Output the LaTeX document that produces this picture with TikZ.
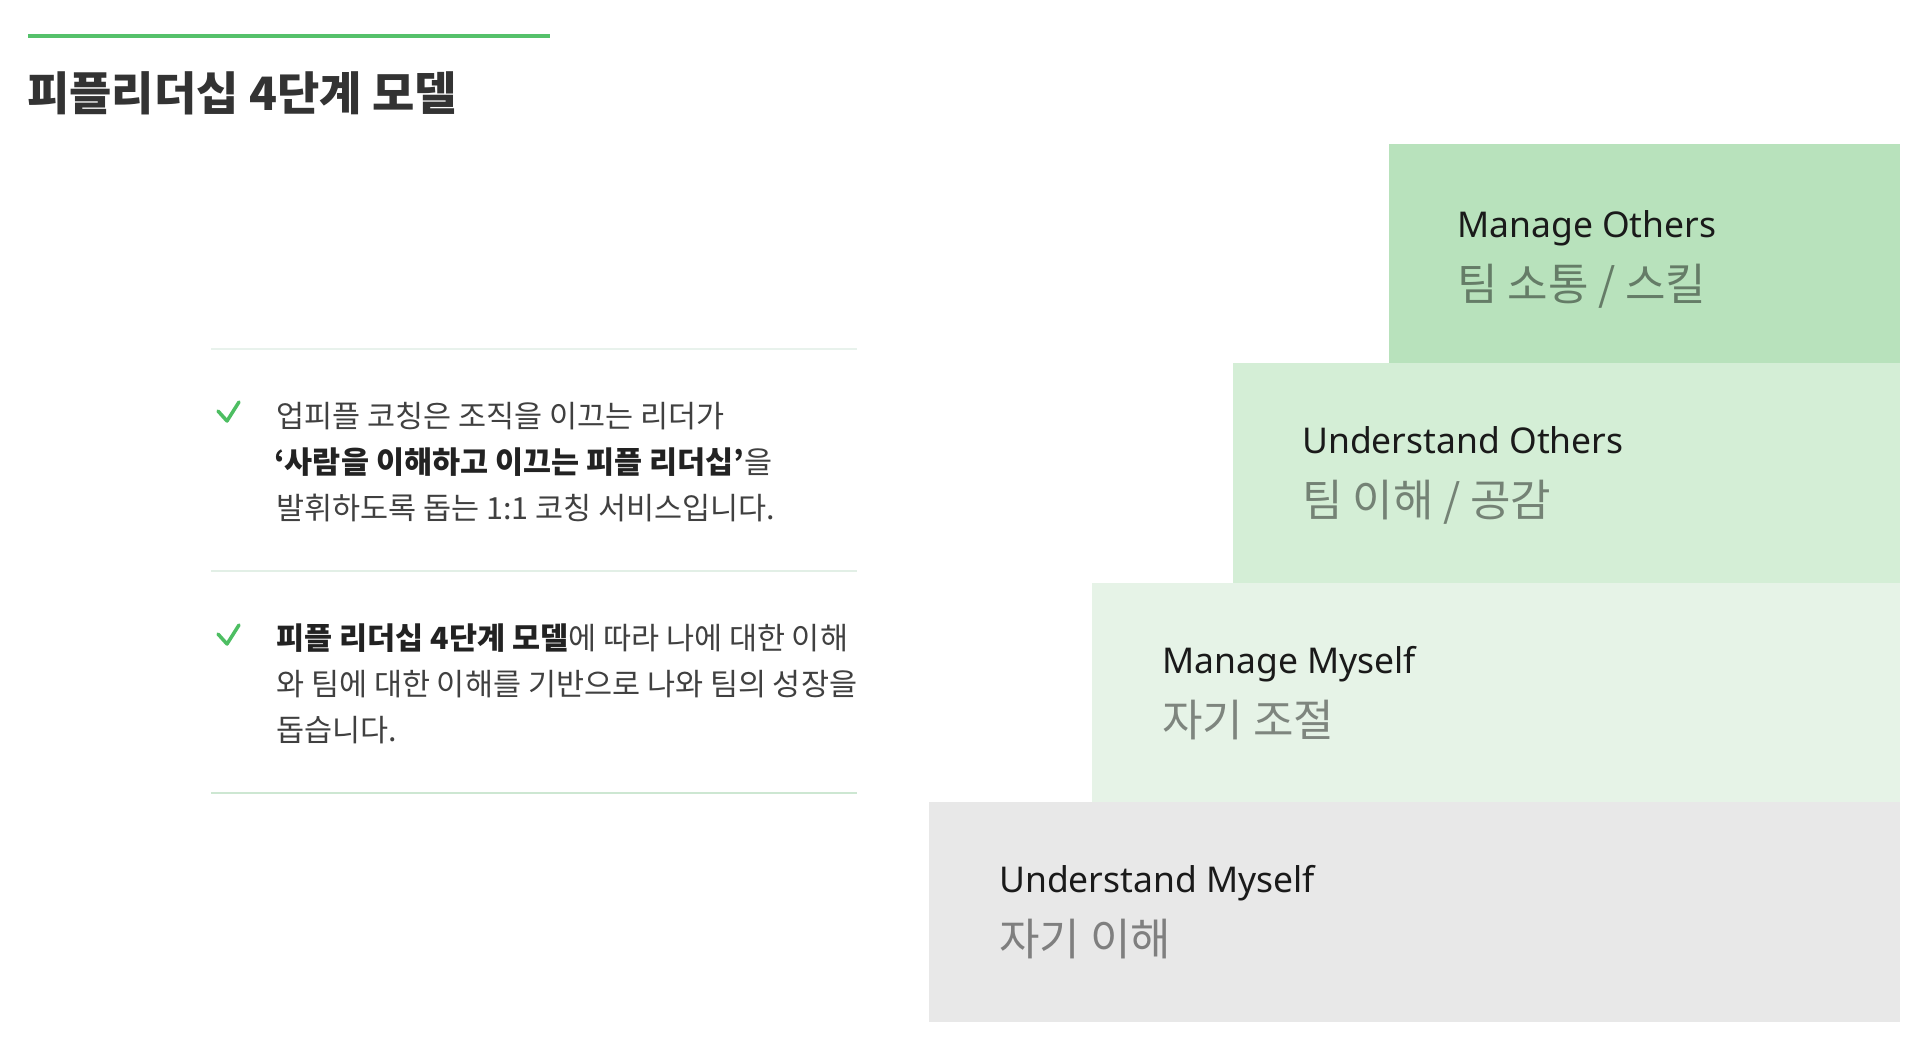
\documentclass[tikz,border=0pt]{standalone}
\usepackage{fontspec}
\setmainfont{Noto Sans CJK KR}
\newfontfamily\enfont{Noto Sans}
\definecolor{accent}{HTML}{55C16B}
\definecolor{checkgreen}{HTML}{4DBE62}
\definecolor{boxA}{HTML}{B8E2BC}
\definecolor{boxB}{HTML}{D4EED6}
\definecolor{boxC}{HTML}{E6F3E7}
\definecolor{boxD}{HTML}{E8E8E8}
\definecolor{titlec}{HTML}{333333}
\definecolor{bodyc}{HTML}{404040}
\definecolor{boldc}{HTML}{222222}
\definecolor{divA}{HTML}{E8F2EC}
\definecolor{divB}{HTML}{E2EFE6}
\definecolor{divC}{HTML}{CDE7D2}
\definecolor{entext}{HTML}{1A1A1A}
\tikzset{
  stepbox/.style={draw=none, inner sep=0pt, outer sep=0pt, anchor=north west},
  entitle/.style={anchor=base west, inner sep=0pt, text=entext, font=\enfont\fontsize{35.5}{40}\selectfont},
  kosub/.style={anchor=base west, inner sep=0pt, text=black, text opacity=0.45, font=\fontsize{44}{50}\selectfont},
  bodyline/.style={anchor=base west, inner sep=0pt, text=bodyc, font=\fontsize{30.5}{36}\selectfont},
  checkmark/.style={draw=checkgreen, line width=3.5pt, line cap=round, line join=round},
  divider/.style={line width=2pt}
}
\begin{document}
\begin{tikzpicture}[x=1pt,y=-1pt]
\fill[white] (0,0) rectangle (1920,1039);
\useasboundingbox (0,0) rectangle (1920,1039);

% top accent line and title
\coordinate (acL) at (28,35.5);
\coordinate (acR) at (550,35.5);
\draw[accent, line width=4pt] (acL) -- (acR);
\node[anchor=base west, inner sep=0pt, text=titlec, font=\bfseries\fontsize{46}{52}\selectfont] (title) at (27,110) {피플리더십 4단계 모델};

% dividers
\coordinate (d1L) at (211,349); \coordinate (d1R) at (857,349);
\coordinate (d2L) at (211,571); \coordinate (d2R) at (857,571);
\coordinate (d3L) at (211,793); \coordinate (d3R) at (857,793);
\draw[divider, divA] (d1L) -- (d1R);
\draw[divider, divB] (d2L) -- (d2R);
\draw[divider, divC] (d3L) -- (d3R);

% check marks
\coordinate (c1a) at (218,411); \coordinate (c1b) at (227,421); \coordinate (c1c) at (239,402);
\draw[checkmark] (c1a) -- (c1b) -- (c1c);
\coordinate (c2a) at (218,634); \coordinate (c2b) at (227,644); \coordinate (c2c) at (239,625);
\draw[checkmark] (c2a) -- (c2b) -- (c2c);

% paragraph 1
\node[bodyline] (p1a) at (276,427) {업피플 코칭은 조직을 이끄는 리더가};
\node[bodyline] (p1b) at (274,473) {{\bfseries\color{boldc}‘사람을 이해하고 이끄는 피플 리더십’}을};
\node[bodyline] (p1c) at (276,519) {발휘하도록 돕는 1:1 코칭 서비스입니다.};

% paragraph 2
\node[bodyline] (p2a) at (276,649) {{\bfseries\color{boldc}피플 리더십 4단계 모델}에 따라 나에 대한 이해};
\node[bodyline] (p2b) at (276,695) {와 팀에 대한 이해를 기반으로 나와 팀의 성장을};
\node[bodyline] (p2c) at (276,741) {돕습니다.};

% staircase boxes
\node[stepbox, fill=boxA, minimum width=511pt, minimum height=219pt] (b1) at (1389,144) {};
\node[stepbox, fill=boxB, minimum width=667pt, minimum height=220pt] (b2) at (1233,363) {};
\node[stepbox, fill=boxC, minimum width=808pt, minimum height=219pt] (b3) at (1092,583) {};
\node[stepbox, fill=boxD, minimum width=971pt, minimum height=220pt] (b4) at (929,802) {};

\node[entitle] (t1) at (1457,237) {Manage Others};
\node[kosub] (s1) at (1457,300) {팀 소통 / 스킬};
\node[entitle] (t2) at (1302,453) {Understand Others};
\node[kosub] (s2) at (1302,516) {팀 이해 / 공감};
\node[entitle] (t3) at (1162,673) {Manage Myself};
\node[kosub] (s3) at (1162,736) {자기 조절};
\node[entitle] (t4) at (999,892) {Understand Myself};
\node[kosub] (s4) at (999,955) {자기 이해};
\end{tikzpicture}
\end{document}
